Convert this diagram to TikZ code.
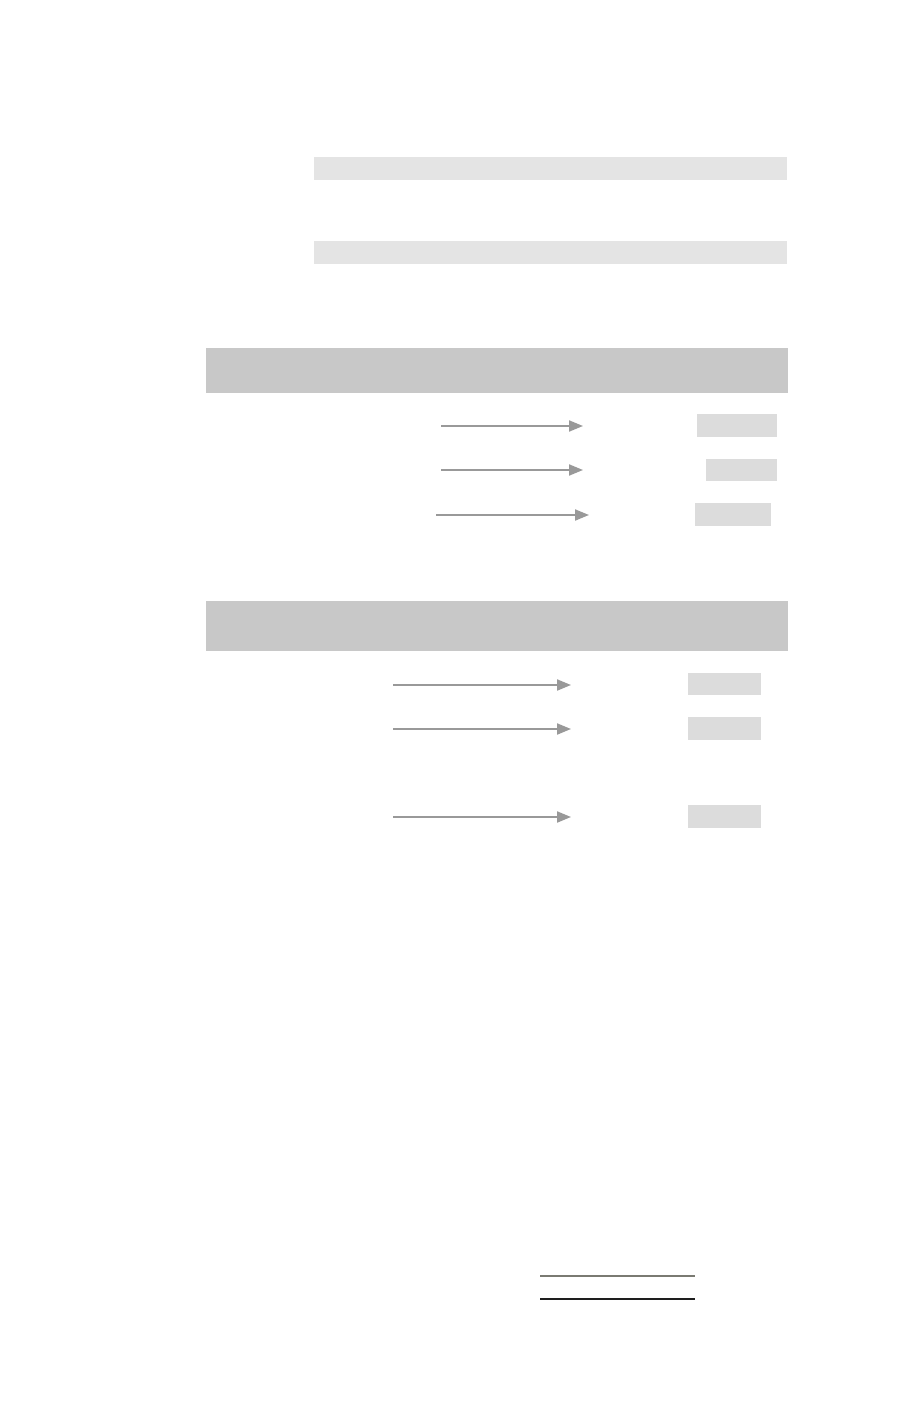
\documentclass[tikz,border=0pt]{standalone}
\usetikzlibrary{arrows.meta}
\definecolor{barlight}{HTML}{E4E4E4}
\definecolor{bardark}{HTML}{C8C8C8}
\definecolor{chip}{HTML}{DCDCDC}
\definecolor{arrowgray}{HTML}{999999}
\definecolor{rulegray}{HTML}{7A7A72}
\definecolor{ruleblack}{HTML}{1E1E1E}
\tikzset{
  lightbar/.style={fill=barlight,draw=none},
  headbar/.style={fill=bardark,draw=none},
  chipbox/.style={fill=chip,draw=none},
  flow/.style={draw=arrowgray,line width=1pt,-{Triangle[length=7pt,width=5.5pt]}},
}
\begin{document}
\begin{tikzpicture}[x=0.5pt,y=-0.5pt]
\useasboundingbox[fill=white] (0,0) rectangle (920,1406);
% light bars
\path[lightbar] (314,157) rectangle (787,180) coordinate (lb1);
\path[lightbar] (314,241) rectangle (787,264) coordinate (lb2);
% header 1
\path[headbar] (206,348) rectangle (788,393) coordinate (h1);
% section 1 arrows
\coordinate (a1s) at (441,426); \coordinate (a1e) at (583,426);
\coordinate (a2s) at (441,470); \coordinate (a2e) at (583,470);
\coordinate (a3s) at (436,515); \coordinate (a3e) at (589,515);
\draw[flow] (a1s) -- (a1e);
\draw[flow] (a2s) -- (a2e);
\draw[flow] (a3s) -- (a3e);
\path[chipbox] (697,414) rectangle (777,437) coordinate (c1);
\path[chipbox] (706,459) rectangle (777,481) coordinate (c2);
\path[chipbox] (695,503) rectangle (771,526) coordinate (c3);
% header 2
\path[headbar] (206,601) rectangle (788,651) coordinate (h2);
% section 2 arrows
\coordinate (b1s) at (393,685); \coordinate (b1e) at (571,685);
\coordinate (b2s) at (393,729); \coordinate (b2e) at (571,729);
\coordinate (b3s) at (393,817); \coordinate (b3e) at (571,817);
\draw[flow] (b1s) -- (b1e);
\draw[flow] (b2s) -- (b2e);
\draw[flow] (b3s) -- (b3e);
\path[chipbox] (688,673) rectangle (761,695) coordinate (d1);
\path[chipbox] (688,717) rectangle (761,740) coordinate (d2);
\path[chipbox] (688,805) rectangle (761,828) coordinate (d3);
% bottom rules
\coordinate (r1s) at (540,1276); \coordinate (r1e) at (695,1276);
\coordinate (r2s) at (540,1299); \coordinate (r2e) at (695,1299);
\draw[rulegray,line width=0.6pt] (r1s) -- (r1e);
\draw[ruleblack,line width=0.6pt] (r2s) -- (r2e);
\end{tikzpicture}
\end{document}
